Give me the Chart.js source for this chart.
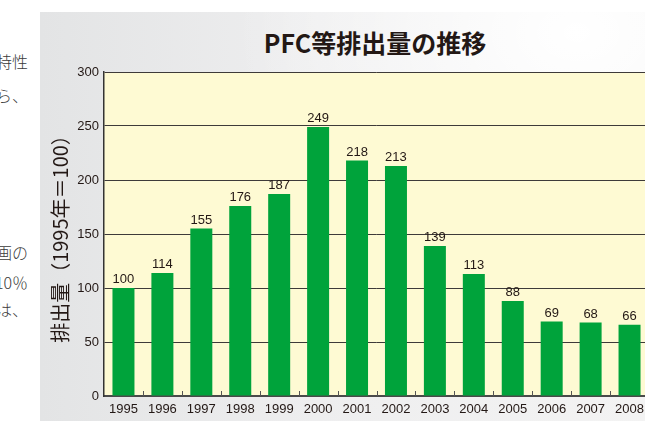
<!DOCTYPE html>
<html lang="ja">
<head>
<meta charset="utf-8">
<title>PFC等排出量の推移</title>
<script src="https://cdn.jsdelivr.net/npm/chart.js@4/dist/chart.umd.min.js"></script>
<style>
    html, body {
        margin: 0;
        padding: 0;
        width: 645px;
        height: 421px;
        overflow: hidden;
        background: #fff;
    }
    .body-text {
        position: absolute;
        left: 0;
        width: 28px;
        height: 24px;
        overflow: hidden;
        display: flex;
        justify-content: flex-end;
        white-space: nowrap;
        font-family: "Noto Sans CJK JP", sans-serif;
        font-weight: 300;
        font-size: 16px;
        line-height: 24px;
        color: #3a3a3a;
    }
    #panel {
        position: absolute;
        left: 40px;
        top: 12px;
        width: 610px;
        height: 409px;
        background:
            radial-gradient(ellipse at 88% 5%, rgba(255, 255, 255, 1) 0%, rgba(255, 255, 255, 0) 45%),
            linear-gradient(to right, #e3e4e5 0%, #eeeeef 45%, #f3f3f3 100%);
    }
    #title {
        position: absolute;
        left: 65px;
        top: 16px;
        width: 540px;
        text-align: center;
        font-family: "Noto Sans CJK JP", sans-serif;
        font-weight: 700;
        font-size: 25px;
        line-height: 29px;
        color: #231815;
    }
    #chartBox {
        position: absolute;
        left: 0;
        top: 0;
        width: 610px;
        height: 409px;
    }
</style>
</head>
<body>

<div class="body-text" style="top: 49px;"><span>の特性</span></div>
<div class="body-text" style="top: 83px;"><span>とから、</span></div>
<div class="body-text" style="top: 240px;"><span>計画の</span></div>
<div class="body-text" style="top: 270px;"><span>10％</span></div>
<div class="body-text" style="top: 297px;"><span>年度は、</span></div>

<div id="panel">
    <div id="title">PFC等排出量の推移</div>
    <div id="chartBox"><canvas id="pfcChart"></canvas></div>
</div>

<script>
const years = ["1995", "1996", "1997", "1998", "1999", "2000", "2001", "2002", "2003", "2004", "2005", "2006", "2007", "2008"]
const emissions = [100, 114, 155, 176, 187, 249, 218, 213, 139, 113, 88, 69, 68, 66]
const yTickValues = [0, 50, 100, 150, 200, 250, 300]
const yAxisTitle = "排出量（1995年＝100）"

const inkColor = "#231815"
const barColor = "#00a33b"

// yellow plot background behind the bars
const plotBackground = {
    id: "plotBackground",
    beforeDraw: (chart) => {
        const { ctx, chartArea } = chart
        ctx.save()
        ctx.fillStyle = "#fefad3"
        ctx.fillRect(chartArea.left, chartArea.top, chartArea.right - chartArea.left, chartArea.bottom - chartArea.top)
        ctx.restore()
    }
}

// short marks between the years, pointing up from the base line
const innerTicks = {
    id: "innerTicks",
    afterDatasetsDraw: (chart) => {
        const { ctx, chartArea } = chart
        const x = chart.scales.x
        ctx.save()
        ctx.strokeStyle = "#555"
        ctx.lineWidth = 1
        for (let i = 1; i < years.length; i++) {
            const px = Math.round((x.getPixelForValue(i - 1) + x.getPixelForValue(i)) / 2) + 0.5
            ctx.beginPath()
            ctx.moveTo(px, chartArea.bottom)
            ctx.lineTo(px, chartArea.bottom - 5)
            ctx.stroke()
        }
        ctx.restore()
    }
}

// value printed above each bar
const barValues = {
    id: "barValues",
    afterDatasetsDraw: (chart) => {
        const { ctx } = chart
        const meta = chart.getDatasetMeta(0)
        ctx.save()
        ctx.fillStyle = inkColor
        ctx.font = "13px 'Liberation Sans', Arial, sans-serif"
        ctx.textAlign = "center"
        ctx.textBaseline = "bottom"
        meta.data.forEach((bar, i) => {
            ctx.fillText(emissions[i], bar.x, bar.y - 2)
        })
        ctx.restore()
    }
}

const data = {
    labels: years,
    datasets: [{
        label: "PFC等排出量",
        data: emissions,
        backgroundColor: barColor,
        borderWidth: 0,
        categoryPercentage: 1,
        barPercentage: 0.565
    }]
}

const config = {
    type: "bar",
    data: data,
    options: {
        responsive: true,
        maintainAspectRatio: false,
        animation: false,
        layout: {
            padding: { top: 60, left: 0, right: 0, bottom: 0 }
        },
        plugins: {
            legend: { display: false },
            tooltip: { enabled: false },
            title: { display: false }
        },
        scales: {
            x: {
                grid: { display: false, drawTicks: false },
                border: { display: true, color: "#4a4a4a", width: 2 },
                ticks: {
                    color: inkColor,
                    padding: 6,
                    maxRotation: 0,
                    autoSkip: false,
                    font: { family: "'Liberation Sans', Arial, sans-serif", size: 13 }
                },
                afterFit: (scale) => { scale.height = 25 }
            },
            y: {
                min: 0,
                max: 300,
                afterBuildTicks: (scale) => {
                    scale.ticks = yTickValues.map(v => ({ value: v }))
                },
                grid: { color: "#3e3a39", lineWidth: 1, drawTicks: false },
                border: { display: true, color: "#333", width: 1.5 },
                ticks: {
                    color: inkColor,
                    padding: 5,
                    font: { family: "'Liberation Sans', Arial, sans-serif", size: 13 }
                },
                title: {
                    display: true,
                    text: yAxisTitle,
                    color: inkColor,
                    padding: { top: 8, bottom: 0 },
                    font: { family: "'Noto Sans CJK JP', sans-serif", size: 20, weight: "normal" }
                },
                afterFit: (scale) => { scale.width = 64 }
            }
        }
    },
    plugins: [plotBackground, innerTicks, barValues]
}

new Chart(document.querySelector("#pfcChart"), config)
</script>
</body>
</html>
